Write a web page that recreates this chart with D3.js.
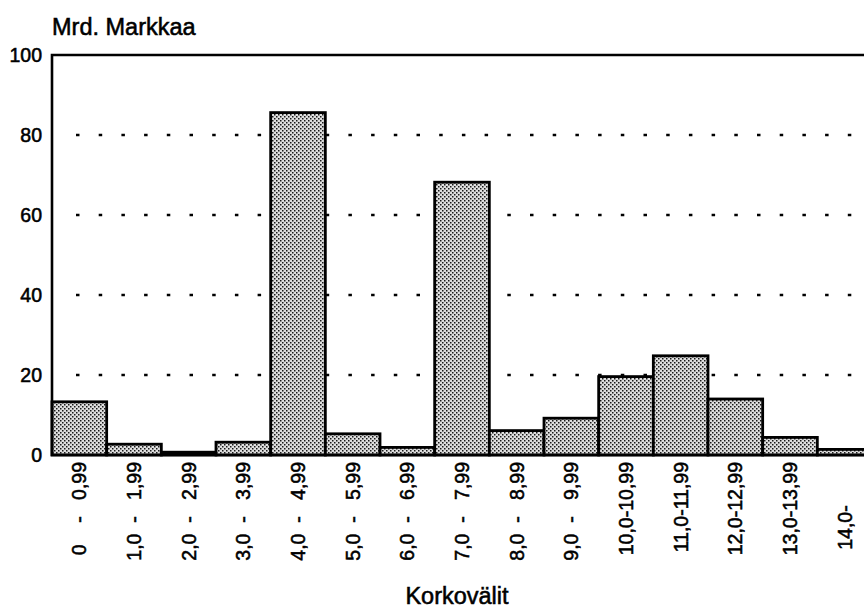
<!DOCTYPE html>
<html>
<head>
<meta charset="utf-8">
<script src="https://cdn.jsdelivr.net/npm/d3@7"></script>
<style>
  body { margin: 0; background: #fff; }
  svg { display: block; font-family: "Liberation Sans", Arial, sans-serif; }
  text { stroke: #000; stroke-width: 0.55px; }
  .xlab { white-space: pre; }
</style>
</head>
<body>
<svg id="chart" width="864" height="608"></svg>
<script>
// interval labels (spaces keep the tab-like alignment of the original)
let categories = [
  "0    -   0,99", "1,0  -   1,99", "2,0  -   2,99", "3,0  -   3,99",
  "4,0  -   4,99", "5,0  -   5,99", "6,0  -   6,99", "7,0  -   7,99",
  "8,0  -   8,99", "9,0  -   9,99", "10,0-10,99", "11,0-11,99",
  "12,0-12,99", "13,0-13,99", "14,0-        "
]
let values = [13.3, 2.7, 0.7, 3.2, 85.6, 5.3, 1.9, 68.2, 6.1, 9.2, 19.6, 24.8, 14.0, 4.4, 1.4]
let yTicks = [0, 20, 40, 60, 80, 100]
let gridTicks = [20, 40, 60, 80]

let margin = {left: 52, top: 55, bottom: 455, right: 872}

function visualize() {
  let svg = d3.select("#chart")
  let scales = make_scales()

  // stipple fill for the bars
  let pat = svg.append("defs").append("pattern")
    .attr("id", "stipple")
    .attr("width", 4).attr("height", 4)
    .attr("patternUnits", "userSpaceOnUse")
  pat.append("rect").attr("width", 4).attr("height", 4).attr("fill", "#dedede")
  pat.append("rect").attr("x", 0).attr("y", 0).attr("width", 1.5).attr("height", 1.5).attr("fill", "#1a1a1a")
  pat.append("rect").attr("x", 2).attr("y", 2).attr("width", 1.5).attr("height", 1.5).attr("fill", "#1a1a1a")

  // dotted gridlines
  svg.append("g").selectAll("line")
    .data(gridTicks).enter()
    .append("line")
    .attr("x1", margin.left + 24)
    .attr("x2", margin.right)
    .attr("y1", d => scales.y(d))
    .attr("y2", d => scales.y(d))
    .attr("stroke", "#000")
    .attr("stroke-width", 2.6)
    .attr("stroke-dasharray", "3.5,19.2")

  // bars
  svg.append("g").selectAll("rect")
    .data(values).enter()
    .append("rect")
    .attr("x", (d, i) => scales.x(categories[i]))
    .attr("y", d => scales.y(d))
    .attr("width", scales.x.bandwidth())
    .attr("height", d => scales.y(0) - scales.y(d))
    .attr("fill", "url(#stipple)")
    .attr("stroke", "#000")
    .attr("stroke-width", 2.8)

  // frame: left axis, top line, baseline
  svg.append("path")
    .attr("d", `M${margin.right},${margin.top}H${margin.left}V${margin.bottom}H${margin.right}`)
    .attr("fill", "none")
    .attr("stroke", "#000")
    .attr("stroke-width", 2.6)

  // y tick labels
  svg.append("g").selectAll("text")
    .data(yTicks).enter()
    .append("text")
    .attr("x", 42)
    .attr("y", d => scales.y(d))
    .attr("dy", "0.36em")
    .attr("text-anchor", "end")
    .attr("font-size", 19.5)
    .text(d => d)

  // x labels, rotated
  svg.append("g").selectAll("text")
    .data(categories).enter()
    .append("text")
    .attr("class", "xlab")
    .attr("transform", d => `translate(${scales.x(d) + scales.x.bandwidth() / 2},462) rotate(-90)`)
    .attr("dy", "0.36em")
    .attr("text-anchor", "end")
    .attr("font-size", 19.5)
    .text(d => d)

  svg.append("text")
    .attr("x", 52).attr("y", 35)
    .attr("font-size", 23.5)
    .text("Mrd. Markkaa")

  svg.append("text")
    .attr("x", 457).attr("y", 604)
    .attr("text-anchor", "middle")
    .attr("font-size", 23.5)
    .text("Korkovälit")
}

function make_scales() {
  return {
    x: d3.scaleBand()
      .domain(categories)
      .range([margin.left, margin.right])
      .padding(0),
    y: d3.scaleLinear()
      .domain([0, 100])
      .range([margin.bottom, margin.top])
  }
}

visualize()
</script>
</body>
</html>
